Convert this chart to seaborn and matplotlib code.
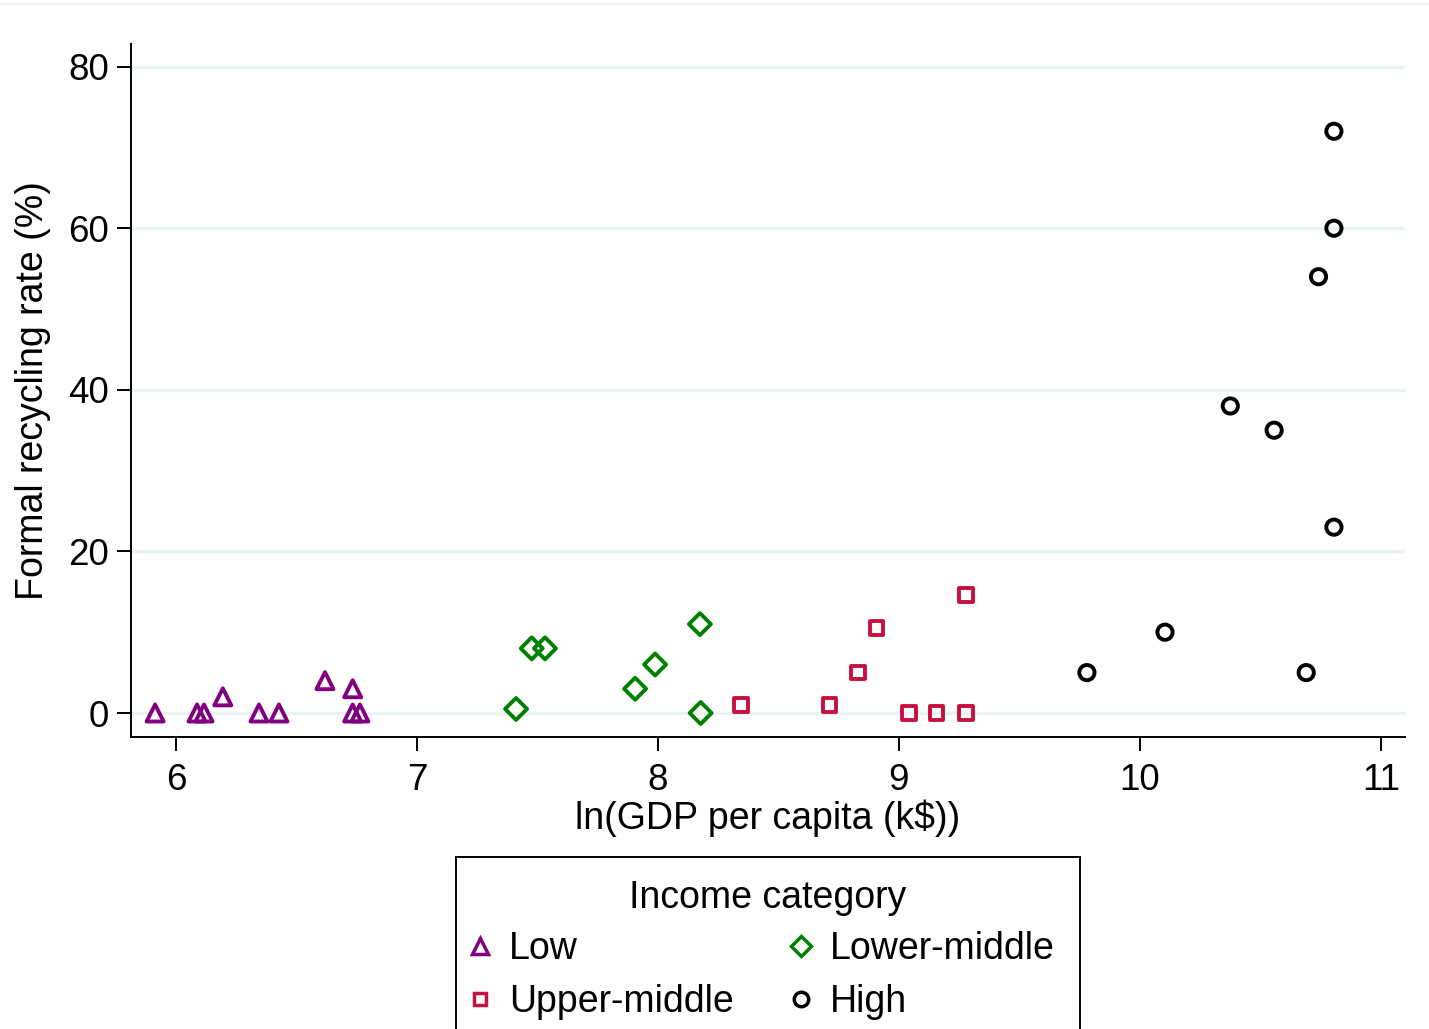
import matplotlib
matplotlib.use("Agg")
import matplotlib.pyplot as plt
from matplotlib.lines import Line2D
from matplotlib.patches import Rectangle
import seaborn as sns
import pandas as pd
import numpy as np

# ---- data ----
low_x = [5.913, 6.087, 6.116, 6.194, 6.344, 6.427, 6.618, 6.733, 6.733, 6.763]
low_y = [0, 0, 0, 2, 0, 0, 4, 3, 0, 0]
lowmid_x = [7.411, 7.476, 7.531, 7.905, 7.988, 8.174, 8.177]
lowmid_y = [0.5, 8, 8, 3, 6, 11, 0]
upmid_x = [8.344, 8.711, 8.831, 8.907, 9.041, 9.156, 9.278, 9.278]
upmid_y = [1, 1, 5, 10.5, 0, 0, 0, 14.6]
high_x = [9.780, 10.104, 10.690, 10.375, 10.557, 10.741, 10.805, 10.805, 10.805]
high_y = [5, 10, 5, 38, 35, 54, 72, 60, 23]

categories = ["Low", "Lower-middle", "Upper-middle", "High"]
x_ticks = [6, 7, 8, 9, 10, 11]
y_ticks = [0, 20, 40, 60, 80]
legend_title = "Income category"

colors = {"Low": "#800080", "Lower-middle": "#008000",
          "Upper-middle": "#c8103e", "High": "#000000"}
markers = {"Low": "^", "Lower-middle": "D", "Upper-middle": "s", "High": "o"}
sizes = {"Low": 150, "Lower-middle": 125, "Upper-middle": 95, "High": 120}
LW = 2.8

df = pd.concat([
    pd.DataFrame({"x": low_x, "y": low_y, "cat": "Low"}),
    pd.DataFrame({"x": lowmid_x, "y": lowmid_y, "cat": "Lower-middle"}),
    pd.DataFrame({"x": upmid_x, "y": upmid_y, "cat": "Upper-middle"}),
    pd.DataFrame({"x": high_x, "y": high_y, "cat": "High"}),
], ignore_index=True)

sns.set_theme(style="white")
plt.rcParams["font.family"] = ["Liberation Sans", "DejaVu Sans"]
plt.rcParams["text.color"] = "black"

W, H = 1429, 1029
fig = plt.figure(figsize=(W / 100, H / 100), dpi=100)
ax = fig.add_axes([131/W, 1 - 737/H, (1405 - 131)/W, (737 - 44)/H])

# gridlines
for yv in y_ticks:
    ax.axhline(yv, color="#eaf2f3", lw=2.4, zorder=0)

for cat in categories:
    sub = df[df["cat"] == cat]
    n_before = len(ax.collections)
    sns.scatterplot(data=sub, x="x", y="y", marker=markers[cat], s=sizes[cat],
                    color=colors[cat], linewidth=LW, legend=False, ax=ax, zorder=3)
    for coll in ax.collections[n_before:]:
        coll.set_facecolor("none")
        coll.set_edgecolor(colors[cat])

ax.set_xlim(5.813, 11.10)
ax.set_ylim(-2.97, 82.8)
ax.set_xticks(x_ticks)
ax.set_yticks(y_ticks)
ax.set_xticklabels([str(t) for t in x_ticks])
ax.set_yticklabels([str(t) for t in y_ticks])
ax.tick_params(axis="both", direction="out", length=10, width=1.4, color="black",
               labelsize=26.5, labelcolor="black", left=True, bottom=True)
ax.tick_params(axis="y", pad=6)
ax.tick_params(axis="x", pad=9)
for side in ["top", "right"]:
    ax.spines[side].set_visible(False)
for side in ["left", "bottom"]:
    ax.spines[side].set_color("black")
    ax.spines[side].set_linewidth(1.4)

ax.set_xlabel("ln(GDP per capita (k$))", fontsize=27, color="black", labelpad=1)
ax.set_ylabel("Formal recycling rate (%)", fontsize=27, color="black", labelpad=12)

# legend entries + title text + frame that runs past the bottom edge
order = ["Low", "Upper-middle", "Lower-middle", "High"]
handles = [Line2D([], [], linestyle="none", marker=markers[c],
                  markersize=float(np.sqrt(sizes[c])) * 0.95,
                  markerfacecolor="none", markeredgecolor=colors[c], markeredgewidth=2.5)
           for c in order]
leg = fig.legend(handles, order, ncol=2,
                 loc="upper center", bbox_to_anchor=(763/W, 1 - 918/H),
                 bbox_transform=fig.transFigure,
                 fontsize=27, frameon=False,
                 borderpad=0.35, labelspacing=0.45,
                 handlelength=0.5, handletextpad=0.52, columnspacing=1.55,
                 borderaxespad=0)
fig.text(768/W, 1 - 898/H, legend_title, ha="center", va="center",
         fontsize=27, color="black")
fig.add_artist(Rectangle((456/W, 1 - 1060/H), (1080 - 456)/W, (1060 - 857)/H,
                         transform=fig.transFigure, fill=False,
                         edgecolor="black", lw=1.4))

# faint top border line
fig.add_artist(Line2D([0, 1], [1 - 4/H, 1 - 4/H], transform=fig.transFigure,
                      color="#eef2f4", lw=1.5))

fig.savefig("out.png", dpi=100)
